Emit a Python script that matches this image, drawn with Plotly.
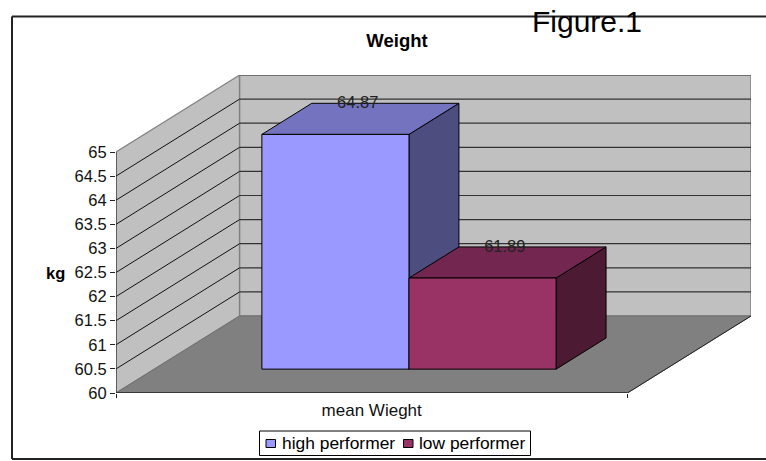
import plotly.graph_objects as go

# Chart content
categories = ["mean Wieght"]
series_names = ["high performer", "low performer"]
series_values = [64.87, 61.89]
value_ticks = [60, 60.5, 61, 61.5, 62, 62.5, 63, 63.5, 64, 64.5, 65]
value_tick_labels = ["60", "60.5", "61", "61.5", "62", "62.5", "63", "63.5", "64", "64.5", "65"]

# Face colours: front, top, side
high_colors = ["#9999FF", "#7373BF", "#4D4D80"]
low_colors = ["#993366", "#732650", "#4D1A33"]
series_colors = [high_colors, low_colors]
WALL = "#C0C0C0"
FLOOR = "#808080"
INK = "#000000"
FONT = "Liberation Sans"

# Page layout in pixels
W, H = 766, 461
LEFT, RIGHT, TOP, BOTTOM = 116, 751, 75, 393

# Oblique projection: depth 1 shifts a point along these data-unit offsets
BASE = 60
MAX_VALUE = 65
DEPTH_X = 123.5 / 511
DEPTH_Y = 77 / 48.2
Y_TOP = MAX_VALUE + DEPTH_Y
X_END = 1 + DEPTH_X

# Bar placement along the category axis and through the depth of the box
BAR_START = 0.2103
BAR_WIDTH = 0.2877
DEPTH_NEAR = 0.31
DEPTH_FAR = 0.714
LABEL_DEPTH = 0.49
LABEL_DROP = 0.02


def project(u, value, depth):
    return u + depth * DEPTH_X, value + depth * DEPTH_Y


def face(corners, fill, edge, width=1.0):
    pts = [project(*c) for c in corners]
    pts.append(pts[0])
    return go.Scatter(
        x=[p[0] for p in pts], y=[p[1] for p in pts], mode="lines", fill="toself",
        fillcolor=fill, line=dict(color=edge, width=width),
        hoverinfo="skip", showlegend=False, cliponaxis=False,
    )


def segment(points, color, width):
    pts = [project(*c) for c in points]
    return go.Scatter(
        x=[p[0] for p in pts], y=[p[1] for p in pts], mode="lines",
        line=dict(color=color, width=width),
        hoverinfo="skip", showlegend=False, cliponaxis=False,
    )


def px(x):
    return (x - LEFT) / (RIGHT - LEFT)


def py(y):
    return (BOTTOM - y) / (BOTTOM - TOP)


fig = go.Figure()

# Box: left wall, back wall, floor
fig.add_trace(face([(0, BASE, 0), (0, MAX_VALUE, 0), (0, MAX_VALUE, 1), (0, BASE, 1)], WALL, "#808080", 1.2))
fig.add_trace(face([(0, BASE, 1), (0, MAX_VALUE, 1), (1, MAX_VALUE, 1), (1, BASE, 1)], WALL, "#808080", 1.5))
fig.add_trace(face([(0, BASE, 0), (1, BASE, 0), (1, BASE, 1), (0, BASE, 1)], FLOOR, "#707070", 1.0))

# Gridlines on both walls
for tick in value_ticks[1:-1]:
    fig.add_trace(segment([(0, tick, 0), (0, tick, 1)], "#111111", 1))
    fig.add_trace(segment([(0, tick, 1), (1, tick, 1)], "#333333", 1.2))

# Outer edges of the box
fig.add_trace(segment([(0, BASE, 0), (0, MAX_VALUE, 0)], "#222222", 1))
fig.add_trace(segment([(0, BASE, 0), (1, BASE, 0)], "#222222", 1.5))
fig.add_trace(segment([(1, BASE, 0), (1, BASE, 1)], "#222222", 1))
fig.add_trace(segment([(0, MAX_VALUE, 1), (1, MAX_VALUE, 1)], "#666666", 1.5))

# Bars: side, top, then front face
for i, (value, colors) in enumerate(zip(series_values, series_colors)):
    a = BAR_START + i * BAR_WIDTH
    b = a + BAR_WIDTH
    near, far = DEPTH_NEAR, DEPTH_FAR
    fig.add_trace(face([(b, BASE, near), (b, value, near), (b, value, far), (b, BASE, far)], colors[2], INK))
    fig.add_trace(face([(a, value, near), (b, value, near), (b, value, far), (a, value, far)], colors[1], INK))
    fig.add_trace(face([(a, BASE, near), (b, BASE, near), (b, value, near), (a, value, near)], colors[0], INK))

# Value labels sit over the back edge of each bar top
for i, value in enumerate(series_values):
    cx = BAR_START + (i + 0.5) * BAR_WIDTH + LABEL_DEPTH * DEPTH_X
    cy = value + DEPTH_FAR * DEPTH_Y - LABEL_DROP
    fig.add_trace(go.Scatter(
        x=[cx], y=[cy], mode="text", text=[f"{value:.2f}"], textposition="middle center",
        textfont=dict(family=FONT, size=16.5, color="#222222"),
        hoverinfo="skip", showlegend=False, cliponaxis=False,
    ))

FRAME = dict(color="#222222", width=2)
shapes = [
    # Chart frame running off the right of the page
    dict(type="line", xref="paper", yref="paper", x0=px(12), x1=px(W + 2), y0=py(16.5), y1=py(16.5), line=FRAME),
    dict(type="line", xref="paper", yref="paper", x0=px(12), x1=px(12), y0=py(16.5), y1=py(459), line=FRAME),
    dict(type="line", xref="paper", yref="paper", x0=px(12), x1=px(W + 2), y0=py(459), y1=py(459), line=FRAME),
    # Legend box and swatches
    dict(type="rect", xref="paper", yref="paper", x0=px(259.5), x1=px(530.5), y0=py(431), y1=py(455.5),
         line=dict(color=INK, width=1), fillcolor="white"),
    dict(type="rect", xref="paper", yref="paper", x0=px(266), x1=px(275.5), y0=py(439.5), y1=py(447.5),
         line=dict(color=INK, width=1), fillcolor=high_colors[0]),
    dict(type="rect", xref="paper", yref="paper", x0=px(403.5), x1=px(413), y0=py(439.5), y1=py(447.5),
         line=dict(color=INK, width=1), fillcolor=low_colors[0]),
]


def note(text, x, y, size, bold=False, anchor="left"):
    return dict(
        text=text, x=px(x), y=py(y), xref="paper", yref="paper", showarrow=False,
        xanchor=anchor, yanchor="middle",
        font=dict(family=FONT, size=size, color=INK, weight="bold" if bold else "normal"),
    )


annotations = [
    note("Figure.1", 530, 21, 30),
    note("kg", 55, 272.5, 16.5, bold=True, anchor="center"),
    note(series_names[0], 280, 443.5, 17.4),
    note(series_names[1], 417, 443.5, 17.4),
]

fig.update_layout(
    width=W, height=H, autosize=False,
    margin=dict(l=LEFT, r=W - RIGHT, t=TOP, b=H - BOTTOM, pad=0),
    paper_bgcolor="white", plot_bgcolor="white",
    showlegend=False,
    title=dict(text="Weight", x=397 / W, y=1 - 41 / H, xref="container", yref="container",
               xanchor="center", yanchor="middle",
               font=dict(family=FONT, size=18.5, color=INK, weight="bold")),
    xaxis=dict(
        range=[0, X_END], showgrid=False, zeroline=False, showline=False,
        tickmode="array", tickvals=[0.5], ticktext=categories, ticks="", ticklabelstandoff=5,
        tickfont=dict(family=FONT, size=17, color="#111111"),
        minor=dict(tickmode="array", tickvals=[0, 1], ticks="outside", ticklen=4, tickcolor="#222222", showgrid=False),
    ),
    yaxis=dict(
        range=[BASE, Y_TOP], showgrid=False, zeroline=False, showline=False,
        tickmode="array", tickvals=value_ticks, ticktext=value_tick_labels,
        ticks="outside", ticklen=5, tickcolor="#222222", tickwidth=1,
        tickfont=dict(family=FONT, size=16.5, color="#111111"),
    ),
    shapes=shapes,
    annotations=annotations,
)

fig.write_html("out.html", config=dict(displayModeBar=False))
